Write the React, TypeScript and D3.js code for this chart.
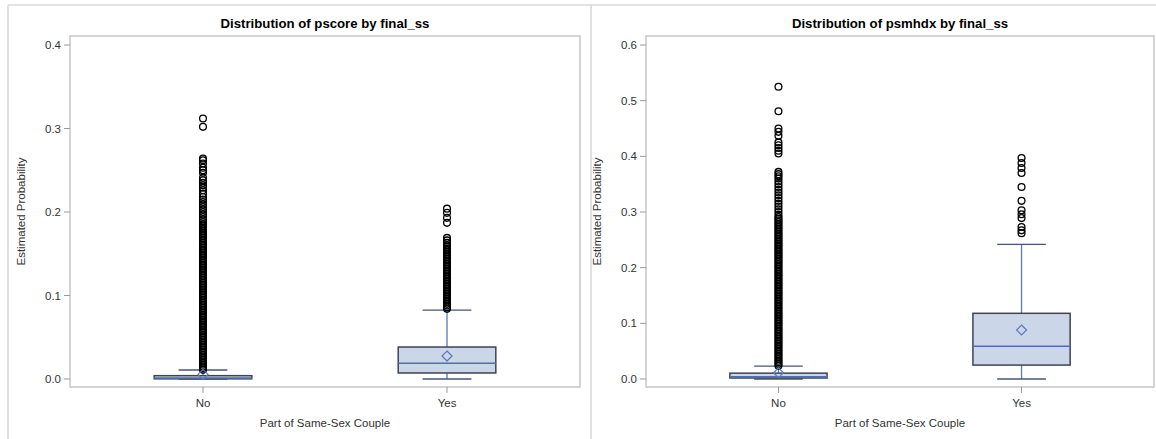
import React from 'react';
import * as d3 from 'd3';

// categories on the x axis
const categories = ['No', 'Yes'];

// pscore box statistics (No, Yes)
const pscoreLow = [0.0, 0.0];
const pscoreQ1 = [0.0002, 0.0072];
const pscoreMedian = [0.0012, 0.019];
const pscoreQ3 = [0.004, 0.0383];
const pscoreHigh = [0.0108, 0.0826];
const pscoreMean = [0.0055, 0.0275];

// psmhdx box statistics (No, Yes)
const psmhdxLow = [0.0, 0.0];
const psmhdxQ1 = [0.0018, 0.025];
const psmhdxMedian = [0.004, 0.059];
const psmhdxQ3 = [0.0105, 0.118];
const psmhdxHigh = [0.0233, 0.242];
const psmhdxMean = [0.0113, 0.088];

// outliers
const pscoreNoOutliers = [
  0.011, 0.013, 0.015, 0.017, 0.019, 0.021, 0.023, 0.025, 0.027, 0.029,
  0.031, 0.033, 0.035, 0.037, 0.039, 0.041, 0.043, 0.045, 0.047, 0.049,
  0.051, 0.053, 0.055, 0.057, 0.059, 0.061, 0.063, 0.065, 0.067, 0.069,
  0.071, 0.073, 0.075, 0.077, 0.079, 0.081, 0.083, 0.085, 0.087, 0.089,
  0.091, 0.093, 0.095, 0.097, 0.099, 0.101, 0.103, 0.105, 0.107, 0.109,
  0.111, 0.113, 0.115, 0.117, 0.119, 0.121, 0.123, 0.125, 0.127, 0.129,
  0.131, 0.133, 0.135, 0.137, 0.139, 0.141, 0.143, 0.145, 0.147, 0.149,
  0.151, 0.153, 0.155, 0.157, 0.159, 0.161, 0.163, 0.165, 0.167, 0.169,
  0.171, 0.173, 0.175, 0.177, 0.179, 0.181, 0.183, 0.185, 0.188, 0.191,
  0.194, 0.197, 0.200, 0.203, 0.206, 0.209, 0.212, 0.215, 0.218, 0.222,
  0.226, 0.229, 0.232, 0.235, 0.238, 0.241, 0.247, 0.250, 0.253, 0.258,
  0.262, 0.264, 0.302, 0.312,
];
const pscoreYesOutliers = [
  0.084, 0.086, 0.088, 0.090, 0.092, 0.094, 0.096, 0.098, 0.100, 0.102,
  0.104, 0.106, 0.108, 0.110, 0.112, 0.114, 0.116, 0.118, 0.120, 0.122,
  0.124, 0.126, 0.128, 0.130, 0.132, 0.134, 0.136, 0.138, 0.140, 0.142,
  0.144, 0.146, 0.148, 0.150, 0.152, 0.154, 0.156, 0.158, 0.160, 0.163,
  0.166, 0.169, 0.187, 0.193, 0.199, 0.204,
];
const psmhdxNoOutliers = [
  0.024, 0.027, 0.030, 0.033, 0.036, 0.039, 0.042, 0.045, 0.048, 0.051,
  0.054, 0.057, 0.060, 0.063, 0.066, 0.069, 0.072, 0.075, 0.078, 0.081,
  0.084, 0.087, 0.090, 0.093, 0.096, 0.099, 0.102, 0.105, 0.108, 0.111,
  0.114, 0.117, 0.120, 0.123, 0.126, 0.129, 0.132, 0.135, 0.138, 0.141,
  0.144, 0.147, 0.150, 0.153, 0.156, 0.159, 0.162, 0.165, 0.168, 0.171,
  0.174, 0.177, 0.180, 0.183, 0.186, 0.189, 0.192, 0.195, 0.198, 0.201,
  0.204, 0.207, 0.210, 0.213, 0.216, 0.219, 0.222, 0.225, 0.228, 0.231,
  0.234, 0.237, 0.240, 0.243, 0.246, 0.249, 0.252, 0.255, 0.258, 0.261,
  0.264, 0.267, 0.270, 0.273, 0.276, 0.279, 0.282, 0.285, 0.288, 0.291,
  0.295, 0.300, 0.305, 0.310, 0.315, 0.320, 0.325, 0.330, 0.335, 0.340,
  0.345, 0.350, 0.355, 0.360, 0.364, 0.368, 0.372, 0.405, 0.410, 0.415,
  0.420, 0.425, 0.437, 0.444, 0.450, 0.481, 0.525,
];
const psmhdxYesOutliers = [
  0.262, 0.267, 0.273, 0.289, 0.296, 0.303, 0.320, 0.345, 0.370, 0.379,
  0.388, 0.397,
];

// tick labels
const pscoreTicks = [0, 0.1, 0.2, 0.3, 0.4];
const psmhdxTicks = [0, 0.1, 0.2, 0.3, 0.4, 0.5, 0.6];

const font = '"Liberation Sans", Arial, sans-serif';

type PanelProps = {
  title: string;
  left: number;
  right: number;
  yMax: number;
  ticks: number[];
  low: number[];
  q1: number[];
  median: number[];
  q3: number[];
  high: number[];
  mean: number[];
  outliers: number[][];
};

function BoxPanel(p: PanelProps) {
  const top = 36;
  const bottom = 387;
  const zeroY = 379;
  const topTickY = 45;
  // 0 sits at 379 and the top tick at 45, the frame runs a little past both
  const perUnit = (zeroY - topTickY) / p.yMax;
  const y = d3
    .scaleLinear()
    .domain([-(bottom - zeroY) / perUnit, p.yMax + (topTickY - top) / perUnit])
    .range([bottom, top]);
  const x = d3.scalePoint<string>().domain(categories).range([p.left, p.right]).padding(0.545);
  const step = x.step();
  const boxW = step * 0.4;
  const capW = boxW / 2;
  const fmt = d3.format('.1f');
  const cx = (p.left + p.right) / 2;

  return (
    <g>
      <text x={cx} y={28} textAnchor="middle" fontFamily={font} fontSize={13.2} fontWeight="bold" fill="#000">
        {p.title}
      </text>
      <rect x={p.left} y={top} width={p.right - p.left} height={bottom - top} fill="#fff" stroke="#c6c6c6" strokeWidth={1.5} />
      {p.ticks.map((t) => (
        <g key={t}>
          <line x1={p.left - 6} x2={p.left} y1={y(t)} y2={y(t)} stroke="#9a9a9a" />
          <text x={p.left - 9} y={y(t)} dy="0.35em" textAnchor="end" fontFamily={font} fontSize={11.5} fill="#333">
            {fmt(t)}
          </text>
        </g>
      ))}
      <text
        transform={`translate(${p.left - 45},${(top + bottom) / 2}) rotate(-90)`}
        textAnchor="middle"
        fontFamily={font}
        fontSize={11.5}
        fill="#333"
      >
        Estimated Probability
      </text>
      {categories.map((c, i) => {
        const xc = x(c) as number;
        return (
          <g key={c}>
            <line x1={xc} x2={xc} y1={bottom} y2={bottom + 6} stroke="#9a9a9a" />
            <text x={xc} y={bottom + 16} dy="0.35em" textAnchor="middle" fontFamily={font} fontSize={11.5} fill="#333">
              {c}
            </text>
            <line x1={xc} x2={xc} y1={y(p.high[i])} y2={y(p.q3[i])} stroke="#5b78b0" strokeWidth={1.3} />
            <line x1={xc} x2={xc} y1={y(p.q1[i])} y2={y(p.low[i])} stroke="#5b78b0" strokeWidth={1.3} />
            <line x1={xc - capW / 2} x2={xc + capW / 2} y1={y(p.high[i])} y2={y(p.high[i])} stroke="#44557a" strokeWidth={1.3} />
            <line x1={xc - capW / 2} x2={xc + capW / 2} y1={y(p.low[i])} y2={y(p.low[i])} stroke="#44557a" strokeWidth={1.3} />
            <rect
              x={xc - boxW / 2}
              y={y(p.q3[i])}
              width={boxW}
              height={Math.max(1, y(p.q1[i]) - y(p.q3[i]))}
              fill="#cbd6e8"
              stroke="#3e4452"
              strokeWidth={1.5}
            />
            <line x1={xc - boxW / 2} x2={xc + boxW / 2} y1={y(p.median[i])} y2={y(p.median[i])} stroke="#4d6fb4" strokeWidth={1.5} />
            {p.outliers[i].map((v, k) => (
              <circle key={k} cx={xc} cy={y(v)} r={3.4} fill="none" stroke="#000" strokeWidth={1.3} />
            ))}
            <path
              d={`M${xc},${y(p.mean[i]) - 5} L${xc + 5},${y(p.mean[i])} L${xc},${y(p.mean[i]) + 5} L${xc - 5},${y(p.mean[i])} Z`}
              fill="none"
              stroke="#5b7ab8"
              strokeWidth={1.2}
            />
          </g>
        );
      })}
      <text x={cx} y={423} dy="0.35em" textAnchor="middle" fontFamily={font} fontSize={11.5} fill="#333">
        Part of Same-Sex Couple
      </text>
    </g>
  );
}

export default function App() {
  return (
    <svg
      width={1156}
      height={439}
      style={{ position: 'absolute', left: 0, top: 0, background: '#fff' }}
    >
      <rect x={0} y={0} width={1156} height={439} fill="#fff" />
      <line x1={8} x2={1156} y1={5} y2={5} stroke="#e2e2e2" strokeWidth={2} />
      <line x1={8} x2={8} y1={5} y2={439} stroke="#d6d6d6" strokeWidth={1.5} />
      <line x1={591} x2={591} y1={5} y2={439} stroke="#d6d6d6" strokeWidth={1.5} />
      <BoxPanel
        title="Distribution of pscore by final_ss"
        left={70}
        right={580}
        yMax={0.4}
        ticks={pscoreTicks}
        low={pscoreLow}
        q1={pscoreQ1}
        median={pscoreMedian}
        q3={pscoreQ3}
        high={pscoreHigh}
        mean={pscoreMean}
        outliers={[pscoreNoOutliers, pscoreYesOutliers]}
      />
      <BoxPanel
        title="Distribution of psmhdx by final_ss"
        left={646}
        right={1154}
        yMax={0.6}
        ticks={psmhdxTicks}
        low={psmhdxLow}
        q1={psmhdxQ1}
        median={psmhdxMedian}
        q3={psmhdxQ3}
        high={psmhdxHigh}
        mean={psmhdxMean}
        outliers={[psmhdxNoOutliers, psmhdxYesOutliers]}
      />
    </svg>
  );
}
